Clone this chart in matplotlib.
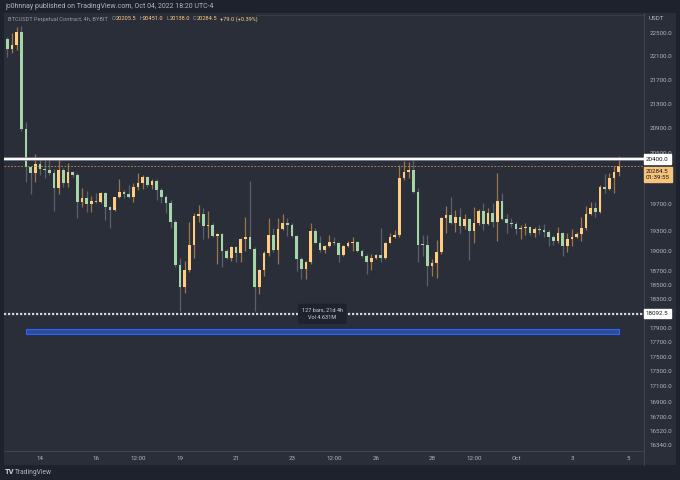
import matplotlib
matplotlib.use('Agg')
import matplotlib.pyplot as plt
import matplotlib.dates as mdates
import matplotlib.transforms as mtransforms
from matplotlib.patches import Rectangle
from matplotlib.lines import Line2D
from matplotlib.text import Annotation
from matplotlib.ticker import NullLocator
import pandas as pd
import numpy as np

plt.rcParams['font.family'] = ['Roboto', 'DejaVu Sans']

# BTCUSDT perpetual (Bybit), 4h bars, Sep 12 20:00 -> Oct 4 16:00 (UTC-4)
opens = [22395, 22222, 22290, 22517, 20878, 20277, 20183, 20323, 20245, 20222,
         20183, 19949, 20229, 20026, 20198, 20151, 19734, 19795, 19704, 19750,
         19734, 19872, 19658, 19613, 19810, 19887, 19856, 19810, 19964, 20026,
         20120, 19995, 20058, 19918, 19810, 19725, 19432, 18788, 18474, 18716,
         19092, 19522, 19552, 19373, 19387, 19224, 19254, 18990, 18888, 19048,
         18960, 19180, 19210, 19019, 18474, 18716, 18960, 19239, 19004, 19328,
         19417, 19387, 19224, 18874, 18730, 18830, 19298, 19121, 19004, 19063,
         19136, 19121, 18931, 19077, 19121, 19136, 18990, 18917, 18830, 18888,
         18931, 18888, 19121, 19210, 19239, 20104, 20198, 20229, 19887, 19092,
         19085, 18773, 18816, 18975, 19492, 19537, 19417, 19507, 19373, 19477,
         19298, 19417, 19598, 19402, 19568, 19432, 19750, 19477, 19417, 19405,
         19328, 19343, 19358, 19269, 19328, 19313, 19283, 19210, 19151, 19269,
         19063, 19180, 19210, 19254, 19343, 19552, 19643, 19583, 19964, 19933,
         20104, 20205.5]
highs = [22430, 22500, 22605, 22622, 20990, 20300, 20484, 20403, 20419, 20387,
         20245, 20403, 20261, 20339, 20214, 20183, 19949, 19903, 19826, 19872,
         19887, 19887, 19673, 19810, 20089, 19918, 19995, 20026, 20183, 20151,
         20130, 20089, 20089, 19949, 19841, 19765, 19462, 18888, 18844, 19432,
         19568, 19688, 19643, 19598, 19417, 19269, 19269, 19019, 19063, 19063,
         19195, 19507, 20058, 19048, 18730, 18990, 19492, 19343, 19492, 19552,
         19492, 19417, 19239, 18902, 18845, 19417, 19343, 19224, 19092, 19239,
         19210, 19136, 19092, 19151, 19210, 19151, 19019, 18946, 18946, 18946,
         19343, 19136, 19269, 19313, 20308, 20371, 20355, 20403, 19949, 19239,
         19239, 18874, 19165, 19507, 19673, 19810, 19613, 19643, 19552, 19492,
         19658, 19628, 19719, 19643, 19719, 20183, 19872, 19552, 19492, 19432,
         19387, 19417, 19373, 19358, 19387, 19402, 19313, 19239, 19358, 19280,
         19269, 19328, 19280, 19507, 19673, 19734, 19734, 19995, 20167, 20183,
         20292, 20451]
lows = [22083, 22150, 22205, 20845, 20042, 19856, 20042, 20151, 20104, 20151,
        19598, 19856, 19964, 19964, 20120, 19492, 19658, 19583, 19583, 19719,
        19719, 19462, 19343, 19598, 19787, 19795, 19795, 19734, 19918, 19933,
        19964, 19933, 19765, 19719, 19568, 19343, 18759, 18138, 18390, 18687,
        18888, 19432, 19180, 19195, 19210, 18802, 18759, 18874, 18845, 18830,
        18830, 18990, 19019, 18125, 18375, 18629, 18917, 18975, 18802, 19313,
        19224, 19210, 18701, 18587, 18587, 18802, 19110, 18975, 18960, 19048,
        19092, 18830, 18917, 19048, 18990, 18975, 18902, 18658, 18716, 18874,
        18830, 18874, 19110, 19195, 19210, 20073, 20104, 19872, 18830, 18917,
        18488, 18629, 18601, 18946, 19269, 19405, 19283, 19269, 19328, 18859,
        19121, 19387, 19313, 19387, 19358, 19151, 19462, 19269, 19358, 19254,
        19180, 19239, 19239, 19210, 19254, 19210, 19063, 19092, 19121, 18917,
        18975, 19063, 19195, 19151, 19313, 19537, 19507, 19568, 19872, 19918,
        19872, 20138]
closes = [22222, 22290, 22517, 20878, 20277, 20183, 20323, 20245, 20222, 20183,
          19949, 20229, 20026, 20198, 20151, 19734, 19795, 19704, 19750, 19734,
          19872, 19658, 19613, 19810, 19887, 19856, 19810, 19964, 20026, 20120,
          19995, 20058, 19918, 19810, 19725, 19432, 18788, 18474, 18716, 19092,
          19522, 19552, 19373, 19387, 19224, 19254, 18990, 18888, 19048, 18960,
          19180, 19210, 19019, 18474, 18716, 18960, 19239, 19004, 19328, 19417,
          19387, 19224, 18874, 18730, 18830, 19298, 19121, 19004, 19063, 19136,
          19121, 18931, 19077, 19121, 19136, 18990, 18917, 18830, 18888, 18931,
          18888, 19121, 19210, 19239, 20104, 20198, 20229, 19887, 19092, 19085,
          18773, 18816, 18975, 19492, 19537, 19417, 19507, 19373, 19477, 19298,
          19417, 19598, 19402, 19568, 19432, 19750, 19477, 19417, 19405, 19328,
          19343, 19358, 19269, 19328, 19313, 19283, 19210, 19151, 19269, 19063,
          19180, 19210, 19254, 19343, 19552, 19643, 19583, 19964, 19933, 20104,
          20205.5, 20284.5]

times = pd.date_range('2022-09-12 20:00', periods=len(opens), freq='4h')

level_high = 20400.0
level_low = 18092.5
countdown = '01:39:55'
measure_text = '127 bars, 21d 4h\nVol 4.631M'
range_bars = (4, 131)
range_price = (17815, 17880)

# 20100 and 18100 sit under the price boxes on the axis
price_ticks = [22500, 22100, 21700, 21300, 20900, 20500, 19700, 19300,
               19000, 18700, 18500, 18300, 17900, 17700, 17500, 17300, 17100,
               16900, 16700, 16520, 16340]
date_ticks = ['2022-09-14 00:00', '2022-09-16 00:00', '2022-09-17 12:00',
              '2022-09-19 00:00', '2022-09-21 00:00', '2022-09-23 00:00',
              '2022-09-24 12:00', '2022-09-26 00:00', '2022-09-28 00:00',
              '2022-09-29 12:00', '2022-10-01 00:00', '2022-10-03 00:00',
              '2022-10-05 00:00']
date_labels = ['14', '16', '12:00', '19', '21', '23', '12:00', '26', '28',
               '12:00', 'Oct', '3', '5']

BG = '#1e222d'
PANEL = '#2a2e39'
SEP = '#434651'
TXT = '#b2b5be'
LEG = '#9598a1'
UP = '#ffcc80'
DOWN = '#a5d6a7'
UP_WICK = '#9a7546'
DOWN_WICK = '#5d606b'

W, H = 680, 480
fig = plt.figure(figsize=(W / 100, H / 100), dpi=100, facecolor=BG)


def fx(px):
    return px / W


def fy(py):
    return 1 - py / H


fig.add_artist(Rectangle((fx(4), fy(465)), fx(672), (465 - 13) / H,
                         facecolor=PANEL, edgecolor='none', zorder=0))
ax = fig.add_axes([fx(4), fy(451), fx(640), (451 - 13) / H], zorder=1)
ax.set_facecolor(PANEL)
for s in ax.spines.values():
    s.set_visible(False)

x = mdates.date2num(times)
o = np.array(opens, float)
h = np.array(highs, float)
l = np.array(lows, float)
c = np.array(closes, float)
up = c >= o

# candles: orange = up, green = down
ax.vlines(x[up], l[up], h[up], color=UP_WICK, lw=0.9, zorder=2)
ax.vlines(x[~up], l[~up], h[~up], color=DOWN_WICK, lw=0.9, zorder=2)
body_lo = np.minimum(o, c)
body_h = np.maximum(np.abs(c - o), o * 0.0008)
bw = 4 / 24 * 0.64
ax.bar(x[up], body_h[up], bottom=body_lo[up], width=bw, color=UP, zorder=3)
ax.bar(x[~up], body_h[~up], bottom=body_lo[~up], width=bw, color=DOWN, zorder=3)

ax.set_yscale('log')
ax.set_ylim(16264, 22852)
t0 = mdates.date2num(pd.Timestamp('2022-09-14'))
ax.set_xlim(t0 - 36 / 28, t0 + 604 / 28)

# horizontal levels
ax.axhline(level_high, color='#8a8d96', lw=2.6, zorder=4)
ax.axhline(level_high, color='white', lw=1.4, zorder=4)
ax.axhline(c[-1], color='#c8925a', lw=0.6, ls=(0, (2, 2)), zorder=4)
ax.axhline(level_low, color='#d1d4dc', lw=1.6, ls=(0, (1, 0.8)), zorder=4)

# date & price range tool
i0, i1 = range_bars
ax.add_patch(Rectangle((x[i0], range_price[0]), x[i1] - x[i0],
                       range_price[1] - range_price[0],
                       facecolor='#2e4d99', edgecolor='#2962ff', lw=0.8, zorder=4))
ax.text((x[i0] + x[i1]) / 2, level_low, measure_text, ha='center', va='center',
        fontsize=4, color='#d1d4dc', linespacing=1.6, zorder=6,
        bbox=dict(boxstyle='round,pad=0.7,rounding_size=0.4', fc='#1e222d', ec='none'))

# price axis
ax.yaxis.tick_right()
ax.set_yticks(price_ticks)
ax.set_yticklabels([f'{p:.1f}' for p in price_ticks])
ax.yaxis.set_minor_locator(NullLocator())
ax.tick_params(axis='y', length=0, pad=4, labelsize=4.5, colors=TXT)

ax.set_xticks(mdates.date2num(pd.to_datetime(date_ticks)))
ax.set_xticklabels(date_labels)
ax.tick_params(axis='x', length=0, pad=3.5, labelsize=4.5, colors=TXT)

# separators and top dotted border
fig.add_artist(Line2D([fx(644), fx(644)], [fy(13), fy(465)], color=SEP, lw=0.7, zorder=5))
fig.add_artist(Line2D([fx(4), fx(644)], [fy(451), fy(451)], color=SEP, lw=0.7, zorder=5))
fig.add_artist(Line2D([fx(256), fx(644)], [fy(15.3), fy(15.3)], color='#4a4e5a',
                      lw=0.6, ls=(0, (1.2, 1.2)), zorder=5))

# price labels on the axis
bt = mtransforms.blended_transform_factory(fig.transFigure, ax.transData)
fig.text(fx(646), level_high, f'{level_high:.1f}', transform=bt, fontsize=4.5,
         color='#131722', va='center', ha='left', zorder=10,
         bbox=dict(boxstyle='square,pad=0.35', fc='white', ec='white'))
fig.text(fx(646), c[-1] * 0.9935, f'{c[-1]:.1f}\n{countdown}', transform=bt,
         fontsize=4.5, color='#131722', va='center', ha='left', zorder=10,
         linespacing=1.2,
         bbox=dict(boxstyle='square,pad=0.35', fc='#f7c47a', ec='#f7c47a'))
fig.text(fx(646), level_low, f'{level_low:.1f}', transform=bt, fontsize=4.5,
         color='#131722', va='center', ha='left', zorder=10,
         bbox=dict(boxstyle='square,pad=0.35', fc='white', ec='white'))
fig.text(fx(649), fy(18), 'USDT', fontsize=4.5, color=TXT, va='center')

# header and legend
fig.text(fx(5), fy(6.5), 'jo0hnnay published on TradingView.com, Oct 04, 2022 18:20 UTC-4',
         fontsize=5, color=TXT, va='center')
chg = c[-1] - c[-2]
pieces = [('O', LEG, 3), (f'{o[-1]:.1f}', UP, 0),
          ('H', LEG, 2), (f'{h[-1]:.1f}', UP, 0),
          ('L', LEG, 2), (f'{l[-1]:.1f}', UP, 0),
          ('C', LEG, 2), (f'{c[-1]:.1f}', UP, 0),
          (f'{chg:+.1f} ({chg / o[-1] * 100:+.2f}%)', UP, 2)]
art = fig.text(fx(8), fy(19), 'BTCUSDT Perpetual Contract, 4h, BYBIT',
               fontsize=4.1, color=LEG, va='center')
for txt, col, gap in pieces:
    art = fig.add_artist(Annotation(
        txt, xy=(1, 0), xycoords=art, xytext=(gap, 0), textcoords='offset points',
        fontsize=4.1, color=col, va='bottom', ha='left', annotation_clip=False))

fig.text(fx(5), fy(472), 'TV', fontsize=5.5, color='#d1d4dc', weight='bold', va='center')
fig.text(fx(15), fy(472), 'TradingView', fontsize=4.8, color=TXT, va='center')

plt.savefig('out.png', dpi=100, facecolor=BG)
